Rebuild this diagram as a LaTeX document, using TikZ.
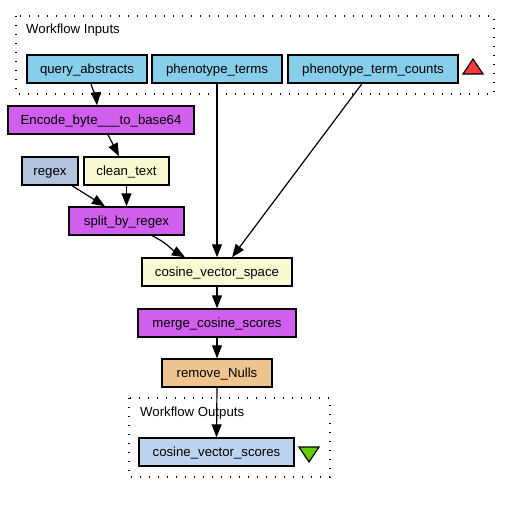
\documentclass[tikz,border=0pt]{standalone}
\usepackage{fontspec}
\setmainfont{Liberation Sans}
\usetikzlibrary{arrows.meta,calc}
\definecolor{inpc}{HTML}{87CEEB}
\definecolor{purp}{HTML}{D15FEE}
\definecolor{ylw}{HTML}{FAFAD2}
\definecolor{stl}{HTML}{B0C4DE}
\definecolor{burl}{HTML}{EEC591}
\definecolor{outc}{HTML}{BCD2EE}
\definecolor{redt}{HTML}{FF3A3A}
\definecolor{grnt}{HTML}{66CD00}
\begin{document}
\begin{tikzpicture}[x=1pt,y=-1pt,
  box/.style={draw=black,line width=1.4pt,minimum height=28pt,inner sep=0pt,text height=10pt,text depth=2pt,font=\fontsize{13.2}{15}\selectfont},
  cluster/.style={draw=black,line width=1.3pt,dash pattern=on 1.4pt off 7.6pt},
  conn/.style={line width=1.2pt,-{Triangle[length=13pt,width=10pt]}},
  lbl/.style={anchor=base west,inner sep=0pt,font=\fontsize{13.2}{15}\selectfont}]
\useasboundingbox (0,0) rectangle (509,504);
% clusters
\draw[cluster] (16,16) rectangle (494,94);
\node[lbl] (inlbl) at (26,33) {Workflow Inputs};
\draw[cluster] (129,398) rectangle (330,477);
\node[lbl] (outlbl) at (140,416) {Workflow Outputs};
% nodes
\node[box,fill=inpc,minimum width=120pt] (qa) at (87,69) {query\_abstracts};
\node[box,fill=inpc,minimum width=130pt] (pt) at (217,69) {phenotype\_terms};
\node[box,fill=inpc,minimum width=170pt] (ptc) at (373,69) {phenotype\_term\_counts};
\node[box,fill=purp,minimum width=186pt] (enc) at (101,120) {Encode\_byte\_\_\_to\_base64};
\node[box,fill=stl,minimum width=56pt] (rx) at (50,171) {regex};
\node[box,fill=ylw,minimum width=85pt] (ct) at (126.5,171) {clean\_text};
\node[box,fill=purp,minimum width=115pt] (sr) at (126.5,221) {split\_by\_regex};
\node[box,fill=ylw,minimum width=150pt] (cvs) at (217,272) {cosine\_vector\_space};
\node[box,fill=purp,minimum width=158pt] (mcs) at (217,323) {merge\_cosine\_scores};
\node[box,fill=burl,minimum width=110pt] (rn) at (217,373) {remove\_Nulls};
\node[box,fill=outc,minimum width=155pt] (out) at (216.5,452) {cosine\_vector\_scores};
% triangles
\draw[line width=1.2pt,fill=redt] (463,74) -- (483,74) -- (473,59) -- cycle;
\draw[line width=1.2pt,fill=grnt] (299,447) -- (319,447) -- (309,462) -- cycle;
% connectors
\draw[conn] ([xshift=4pt]qa.south) to[out=-75,in=95] ([xshift=-4pt]enc.north);
\draw[conn] ([xshift=7pt]enc.south) -- ([xshift=-7.5pt]ct.north);
\draw[conn] ([xshift=22pt]rx.south) -- ([xshift=-21.5pt]sr.north);
\draw[conn] (ct.south) -- (sr.north);
\draw[conn] ([xshift=25.5pt]sr.south) to[out=-25,in=150] ([xshift=-32pt]cvs.north);
\draw[conn] (pt.south) -- (cvs.north);
\draw[conn] ([xshift=-11pt]ptc.south) -- ([xshift=15pt]cvs.north);
\draw[conn] (cvs.south) -- (mcs.north);
\draw[conn] (mcs.south) -- (rn.north);
\draw[conn] (rn.south) -- (out.north);
\end{tikzpicture}
\end{document}
